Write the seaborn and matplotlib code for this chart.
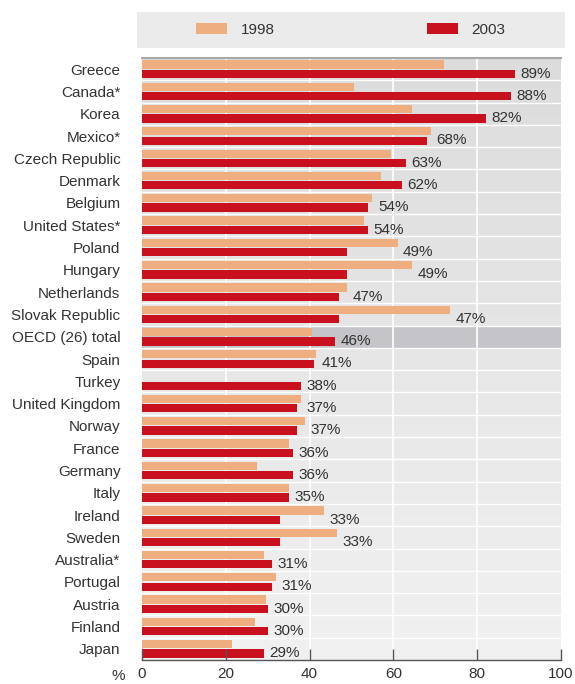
import numpy as np
import pandas as pd
import matplotlib
matplotlib.use("Agg")
import matplotlib.pyplot as plt
import seaborn as sns
from matplotlib.patches import Rectangle
from matplotlib.colors import LinearSegmentedColormap

countries = ["Greece", "Canada*", "Korea", "Mexico*", "Czech Republic", "Denmark",
             "Belgium", "United States*", "Poland", "Hungary", "Netherlands",
             "Slovak Republic", "OECD (26) total", "Spain", "Turkey", "United Kingdom",
             "Norway", "France", "Germany", "Italy", "Ireland", "Sweden", "Australia*",
             "Portugal", "Austria", "Finland", "Japan"]
share_1998 = [72, 50.5, 64.5, 69, 59.5, 57, 55, 53, 61, 64.5, 49, 73.5, 40.5, 41.5,
              np.nan, 38, 39, 35, 27.5, 35, 43.5, 46.5, 29, 32, 29.5, 27, 21.5]
share_2003 = [89, 88, 82, 68, 63, 62, 54, 54, 49, 49, 47, 47, 46, 41, 38, 37, 37,
              36, 36, 35, 33, 33, 31, 31, 30, 30, 29]
years = ["1998", "2003"]
x_ticks = [0, 20, 40, 60, 80, 100]
highlight = "OECD (26) total"

n = len(countries)
df = pd.DataFrame({
    "country": countries * 2,
    "year": [years[0]] * n + [years[1]] * n,
    "share": share_1998 + share_2003,
})

sns.set_theme(style="white")
plt.rcParams["font.family"] = ["Liberation Sans", "DejaVu Sans"]

c98 = "#efae80"
c03 = "#c8101e"
txt = "#333333"

W, H = 575, 684
fig = plt.figure(figsize=(W / 100, H / 100), dpi=100)
fig.patch.set_facecolor("white")
ax = fig.add_axes([142 / W, 1 - 660 / H, (561 - 142) / W, (660 - 58) / H])

sns.barplot(data=df, y="country", x="share", hue="year", order=countries,
            hue_order=years, palette=[c98, c03], orient="h", width=0.84, gap=0.12,
            saturation=1, linewidth=0, ax=ax, zorder=2)
handles, labels = ax.get_legend_handles_labels()
if ax.get_legend() is not None:
    ax.get_legend().remove()

# background gradient
cmap = LinearSegmentedColormap.from_list("bg", ["#dcdcdc", "#f1f1f1"])
ax.imshow(np.linspace(0, 1, 256).reshape(-1, 1), cmap=cmap, extent=[0, 1, 0, 1],
          transform=ax.transAxes, aspect="auto", zorder=0)

hi = countries.index(highlight)
ax.axhspan(hi - 0.5, hi + 0.5, color="#c5c5c9", lw=0, zorder=0.5)
for i in range(1, n):
    ax.axhline(i - 0.5, color="white", lw=1, zorder=0.6)
for t in x_ticks[1:-1]:
    ax.axvline(t, color="white", lw=1.2, zorder=0.6)

for i, (a, b) in enumerate(zip(share_1998, share_2003)):
    m = np.nanmax([a, b])
    ax.text(m + 1.3, i + 0.2, f"{b:.0f}%", ha="left", va="center",
            fontsize=11, color=txt, zorder=3)

ax.set_xlim(0, 100)
ax.set_ylim(n - 0.5, -0.5)
ax.set_xticks(x_ticks)
ax.set_xlabel("")
ax.set_ylabel("")
ax.set_axisbelow(False)
ax.grid(False)
for s in ["left", "right"]:
    ax.spines[s].set_visible(False)
ax.spines["top"].set_color("#a8a8a8")
ax.spines["top"].set_linewidth(1.5)
ax.spines["bottom"].set_color("#555555")
ax.spines["bottom"].set_linewidth(1)
ax.tick_params(axis="x", direction="in", length=8, width=1, color="#555555",
               pad=5, labelsize=11, labelcolor=txt, bottom=True)
ax.tick_params(axis="y", length=0, pad=15.5, labelsize=11, labelcolor=txt)

fig.text(118 / W, 1 - 676 / H, "%", ha="center", va="center", fontsize=11, color=txt)

# legend panel
fig.patches.append(Rectangle((137 / W, 1 - 48 / H), (565 - 137) / W, 36 / H,
                             transform=fig.transFigure, facecolor="#ebebeb",
                             edgecolor="none", zorder=0))
fig.legend(handles, labels, loc="center", bbox_to_anchor=(351 / W, 1 - 30 / H),
           ncol=2, frameon=False, fontsize=11, labelcolor=txt, handlelength=2.0,
           handleheight=0.7, handletextpad=0.9, columnspacing=10.0)

fig.savefig("out.png", dpi=100)
